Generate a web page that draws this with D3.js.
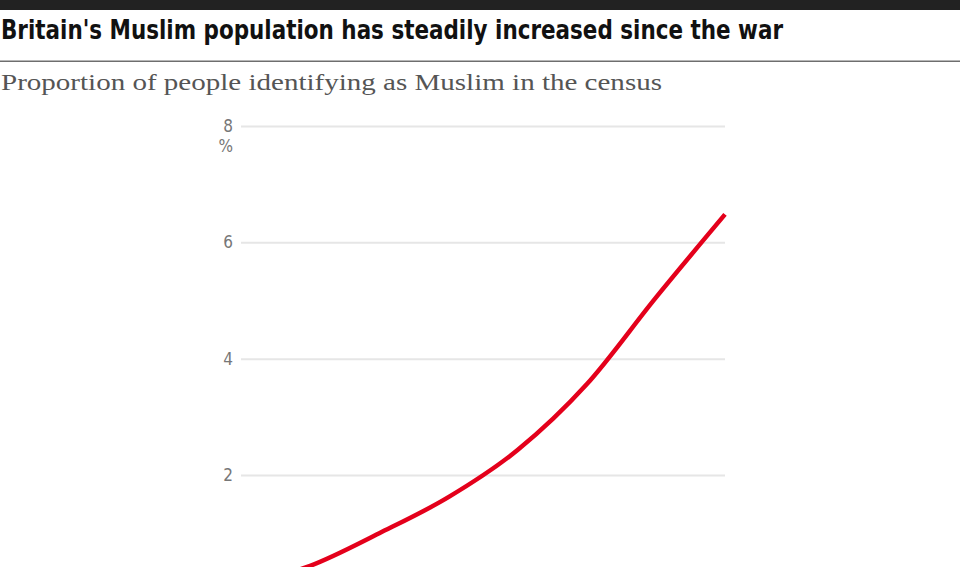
<!DOCTYPE html>
<html>
<head>
<meta charset="utf-8">
<script src="https://cdn.jsdelivr.net/npm/d3@7"></script>
<style>
  html, body { margin: 0; padding: 0; background: #fff; overflow: hidden; }
  svg { display: block; }
</style>
</head>
<body>
<div id="chart"></div>
<script>
// ---- data ----
const years = [1951, 1961, 1971, 1981, 1991, 2001, 2011, 2021];
const muslimShare = [0.1, 0.44, 1.0, 1.62, 2.43, 3.56, 5.05, 6.48];
const yTicks = [2, 4, 6, 8];
const titleText = "Britain's Muslim population has steadily increased since the war";
const subtitleText = "Proportion of people identifying as Muslim in the census";
const unitLabel = "%";

const W = 960, H = 640;
const svg = d3.select("#chart").append("svg").attr("width", W).attr("height", H);
const condensed = "'Liberation Sans Narrow', 'DejaVu Sans Condensed', 'Roboto', sans-serif";

// header
svg.append("rect").attr("x", 0).attr("y", 0).attr("width", W).attr("height", 10).attr("fill", "#222");
svg.append("text")
  .attr("x", 1).attr("y", 39)
  .attr("font-family", condensed)
  .attr("font-weight", "bold").attr("font-size", 27)
  .attr("fill", "#111")
  .attr("textLength", 782).attr("lengthAdjust", "spacingAndGlyphs")
  .text(titleText);
svg.append("rect").attr("x", 0).attr("y", 60.5).attr("width", W).attr("height", 1.5).attr("fill", "#6e6e6e");
svg.append("text")
  .attr("x", 1).attr("y", 90)
  .attr("font-family", "'Liberation Serif', 'DejaVu Serif', serif")
  .attr("font-size", 24)
  .attr("fill", "#555")
  .attr("textLength", 661).attr("lengthAdjust", "spacingAndGlyphs")
  .text(subtitleText);

// scales
const x = d3.scaleLinear().domain([years[0], years[years.length - 1]]).range([241, 725]);
const y = d3.scaleLinear().domain([0, 8]).range([591.4, 126]);

// grid
const yAxis = d3.axisLeft(y).tickValues(yTicks).tickSize(-(725 - 241)).tickPadding(8);
const gAxis = svg.append("g").attr("transform", "translate(241,0)").call(yAxis);
gAxis.select(".domain").remove();
gAxis.selectAll(".tick line").attr("stroke", "#e6e6e6").attr("stroke-width", 2);
gAxis.selectAll(".tick text")
  .attr("font-family", condensed)
  .attr("font-size", 17).attr("fill", "#777");

svg.append("text")
  .attr("x", 233).attr("y", y(8) + 26)
  .attr("text-anchor", "end")
  .attr("font-family", condensed)
  .attr("font-size", 17).attr("fill", "#777")
  .text(unitLabel);

// line
const data = years.map((yr, i) => ({ yr, v: muslimShare[i] }));
const line = d3.line().x(d => x(d.yr)).y(d => y(d.v)).curve(d3.curveMonotoneX);
svg.append("path").datum(data)
  .attr("d", line)
  .attr("fill", "none")
  .attr("stroke", "#e4001b")
  .attr("stroke-width", 4.5)
  .attr("stroke-linejoin", "round")
  .attr("stroke-linecap", "butt");
</script>
</body>
</html>
